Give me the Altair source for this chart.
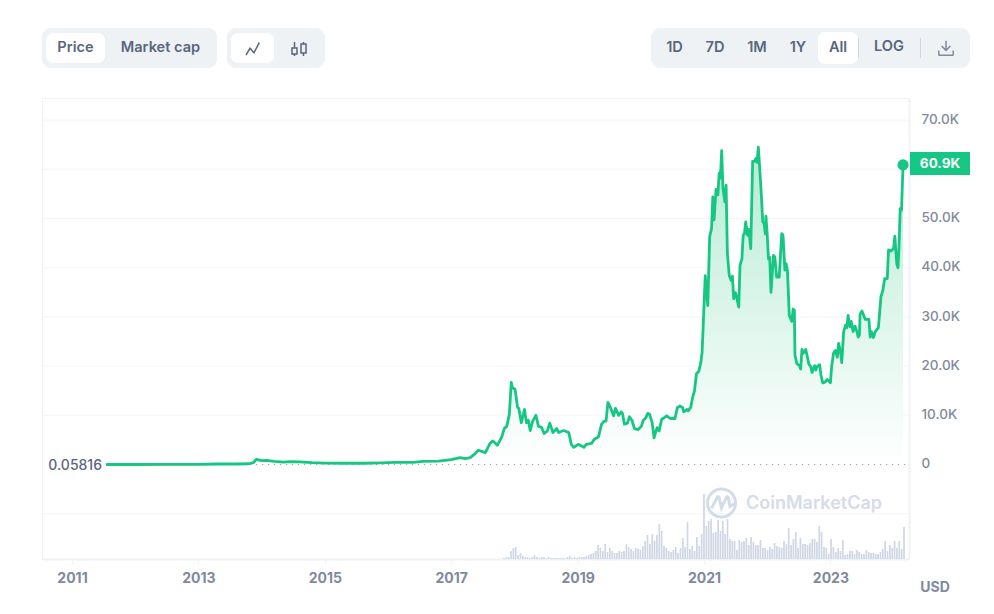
import altair as alt
import pandas as pd

FONT = "Inter"
GREEN = "#16c784"
SLATE = "#58667e"
AXIS_GREY = "#808a9d"
PANEL = "#eff2f5"
WATERMARK = "#d5dce9"

years = [
    2011.54, 2012.0, 2012.5, 2013.0, 2013.3, 2013.6, 2013.8, 2013.87, 2013.92, 2014.0, 2014.08, 2014.2, 2014.34,
    2014.45, 2014.6, 2014.8, 2015.0, 2015.3, 2015.6, 2015.9, 2016.1, 2016.4, 2016.55, 2016.8, 2017.0, 2017.14,
    2017.22, 2017.30, 2017.38, 2017.43, 2017.54, 2017.61, 2017.66, 2017.73, 2017.80, 2017.84, 2017.88, 2017.92,
    2017.95, 2017.97, 2018.01, 2018.05, 2018.07, 2018.11, 2018.16, 2018.19, 2018.22, 2018.25, 2018.29, 2018.34,
    2018.38, 2018.43, 2018.47, 2018.52, 2018.56, 2018.61, 2018.67, 2018.70, 2018.78, 2018.86, 2018.90, 2018.94,
    2019.01, 2019.10, 2019.14, 2019.22, 2019.27, 2019.33, 2019.38, 2019.42, 2019.45, 2019.48, 2019.52, 2019.57,
    2019.60, 2019.65, 2019.69, 2019.71, 2019.74, 2019.79, 2019.82, 2019.86, 2019.90, 2019.96, 2020.01, 2020.04,
    2020.08, 2020.11, 2020.14, 2020.18, 2020.21, 2020.24, 2020.26, 2020.29, 2020.33, 2020.37, 2020.41, 2020.46,
    2020.54, 2020.58, 2020.62, 2020.66, 2020.68, 2020.73, 2020.75, 2020.79, 2020.82, 2020.85, 2020.88, 2020.92,
    2020.95, 2020.97, 2020.99, 2021.02, 2021.06, 2021.09, 2021.12, 2021.14, 2021.16, 2021.19, 2021.22, 2021.24,
    2021.26, 2021.28, 2021.30, 2021.33, 2021.35, 2021.37, 2021.40, 2021.43, 2021.45, 2021.47, 2021.50, 2021.55,
    2021.57, 2021.60, 2021.62, 2021.64, 2021.66, 2021.69, 2021.71, 2021.74, 2021.77, 2021.80, 2021.82, 2021.84,
    2021.86, 2021.90, 2021.93, 2021.95, 2021.97, 2021.98, 2022.00, 2022.02, 2022.04, 2022.06, 2022.10, 2022.12,
    2022.15, 2022.19, 2022.23, 2022.25, 2022.28, 2022.30, 2022.32, 2022.35, 2022.39, 2022.41, 2022.43, 2022.44,
    2022.47, 2022.51, 2022.53, 2022.55, 2022.57, 2022.61, 2022.66, 2022.69, 2022.71, 2022.75, 2022.77, 2022.79,
    2022.83, 2022.85, 2022.88, 2022.92, 2022.95, 2023.00, 2023.02, 2023.05, 2023.08, 2023.11, 2023.13, 2023.16,
    2023.18, 2023.21, 2023.24, 2023.26, 2023.28, 2023.31, 2023.33, 2023.36, 2023.39, 2023.42, 2023.44, 2023.46,
    2023.47, 2023.50, 2023.55, 2023.61, 2023.63, 2023.65, 2023.68, 2023.71, 2023.76, 2023.80, 2023.83, 2023.86,
    2023.90, 2023.92, 2023.96, 2024.00, 2024.02, 2024.05, 2024.07, 2024.085, 2024.105, 2024.125, 2024.15,
]
prices_k = [
    0.00006, 0.005, 0.007, 0.013, 0.1, 0.1, 0.15, 0.4, 1.05, 0.8, 0.85, 0.65, 0.5,
    0.6, 0.55, 0.38, 0.3, 0.25, 0.25, 0.35, 0.42, 0.45, 0.65, 0.7, 1.0, 1.4,
    1.2, 1.4, 2.2, 2.9, 2.4, 4.2, 4.8, 3.9, 5.6, 7.3, 7.8, 10.2,
    16.7, 15.6, 15.3, 11.6, 11.4, 8.5, 11.2, 8.5, 9.0, 6.9, 8.8, 10.0,
    7.8, 7.5, 6.3, 6.8, 8.4, 6.5, 7.3, 6.5, 6.9, 6.5, 4.1, 3.5,
    4.1, 3.5, 4.1, 4.3, 5.2, 5.6, 8.2, 8.8, 8.8, 12.6, 11.6, 9.9,
    11.4, 10.0, 10.7, 10.4, 8.2, 8.4, 9.7, 9.0, 7.3, 7.1, 7.8, 9.0,
    9.5, 10.4, 10.2, 8.5, 5.4, 6.8, 7.5, 6.8, 9.2, 9.5, 9.9, 9.4,
    9.3, 11.6, 11.9, 11.6, 10.7, 11.2, 10.9, 11.6, 13.6, 15.0, 18.4, 19.0,
    20.7, 22.8, 29.0, 38.4, 32.3, 46.3, 48.0, 54.4, 49.7, 55.9, 54.8, 59.2,
    58.2, 63.8, 56.1, 53.4, 56.8, 42.9, 38.4, 37.4, 38.3, 33.7, 34.9, 32.0,
    40.5, 41.8, 46.6, 46.9, 49.3, 46.6, 47.8, 43.9, 61.6, 61.6, 62.2, 61.4,
    64.5, 56.5, 49.3, 49.0, 46.9, 50.5, 46.9, 41.8, 42.1, 35.0, 42.5, 42.2,
    38.1, 38.1, 46.9, 46.6, 39.5, 40.8, 39.5, 30.3, 29.1, 31.6, 31.3, 22.2,
    20.5, 20.1, 19.4, 23.4, 22.6, 23.4, 20.4, 19.9, 18.7, 20.1, 19.2, 19.9,
    20.3, 18.2, 16.6, 16.8, 17.3, 16.6, 19.9, 22.6, 23.2, 21.8, 24.6, 22.9,
    20.7, 27.0, 28.3, 27.8, 30.3, 28.0, 29.1, 27.0, 28.1, 27.0, 25.9, 26.3,
    30.5, 31.2, 29.5, 29.5, 25.9, 27.0, 25.8, 27.0, 27.8, 34.1, 35.4, 37.8,
    37.8, 43.6, 43.4, 43.9, 46.4, 40.8, 40.0, 44.0, 52.0, 51.7, 60.9,
]
volumes_b = [
    5, 10, 10, 40, 55, 60, 20, 30, 15, 10, 10, 5, 10, 20, 10, 5, 10, 10, 5, 10, 5, 5, 5, 5, 5, 5, 5, 10,
    15, 5, 10, 5, 10, 10, 10, 15, 20, 25, 30, 40, 70, 55, 40, 75, 35, 55, 40, 30, 30, 40, 35, 40, 75, 60,
    50, 40, 55,
    50, 45, 65, 90, 120, 75, 125, 90, 120, 175, 140, 65, 55, 40, 35, 45, 60, 30, 55, 105, 60, 185, 50, 65,
    40, 110, 65, 125, 325, 165, 190, 200, 130, 135, 195, 140, 190, 125, 200, 100, 90, 90, 45, 95, 85, 90,
    105, 70, 110, 85, 70, 70, 95, 55, 55, 45, 60, 50, 80, 65,
    60, 55, 90, 75, 155, 70, 100, 135, 55, 105, 75, 75, 70, 80, 100, 100, 85, 165, 135, 60, 55, 25, 100,
    60, 35, 55, 40, 95, 20, 25, 40, 40, 25, 45, 35, 25, 25, 45, 35, 30, 30, 25, 25, 35, 50, 90, 40, 70,
    55, 90, 55, 90, 50, 160,
]
vol_first, vol_last = 2017.835, 2024.165
vol_years = [vol_first + i * (vol_last - vol_first) / (len(volumes_b) - 1) for i in range(len(volumes_b))]

x_ticks = [2011, 2013, 2015, 2017, 2019, 2021, 2023]
y_labels = [0, 10, 20, 30, 40, 50, 70]
grid_lines = [-10, 10, 20, 30, 40, 50, 60, 70]

price_df = pd.DataFrame({"year": years, "price": prices_k})
vol_df = pd.DataFrame({"year": vol_years, "volume": volumes_b})
grid_df = pd.DataFrame({"level": grid_lines})
last_df = price_df.tail(1)
one = pd.DataFrame({"a": [0]})

OX, OY = 42, 98
x_scale = alt.Scale(domain=[2010.525, 2024.244], nice=False, zero=False, padding=0)
y_scale = alt.Scale(domain=[-19.207, 74.492], nice=False, zero=False)
X = alt.X("year:Q", scale=x_scale, title=None, axis=None)


def rrect(x0, x1, y0, y1, fill, r=0):
    return alt.Chart(one).mark_rect(color=fill, cornerRadius=r).encode(
        x=alt.value(x0 - OX), x2=alt.value(x1 - OX), y=alt.value(y0 - OY), y2=alt.value(y1 - OY))


def txt(s, x, y, size=14.6, weight=600, color=SLATE, align="center"):
    return alt.Chart(one).mark_text(text=s, font=FONT, fontSize=size, fontWeight=weight, color=color,
                                    align=align, baseline="middle").encode(
        x=alt.value(x - OX), y=alt.value(y - OY))


def icon(path, x, y, span, color=SLATE, width=1.5):
    return alt.Chart(one).mark_point(shape=path, size=span * span, filled=False, color=color, strokeWidth=width,
                                     opacity=1).encode(x=alt.value(x - OX), y=alt.value(y - OY))


axis_layer = alt.Chart(grid_df).mark_rule(color="#f3f5f8", strokeWidth=1).encode(
    y=alt.Y("level:Q", scale=y_scale, title=None, axis=None))

ticks_layer = alt.Chart(pd.DataFrame({"year": x_ticks, "price": [0] * len(x_ticks)})).mark_point(opacity=0).encode(
    x=alt.X("year:Q", scale=x_scale, title=None,
            axis=alt.Axis(values=x_ticks, format="d", labelFont=FONT, labelFontSize=14, labelFontWeight=700,
                          labelColor=AXIS_GREY, labelPadding=7, tickColor=PANEL, tickSize=5, domainColor=PANEL,
                          domainWidth=2, grid=False, labelFlush=False, labelOverlap=False)),
    y=alt.Y("price:Q", scale=y_scale, title=None,
            axis=alt.Axis(orient="right", values=y_labels, grid=False, ticks=False, domainColor=PANEL,
                          domainWidth=2, labelFont=FONT, labelFontSize=13.5, labelFontWeight=500,
                          labelColor=AXIS_GREY, labelPadding=12, labelAlign="left", labelOverlap=False,
                          labelOffset=-0.8,
                          labelExpr="datum.value == 0 ? '0' : format(datum.value, '.1f') + 'K'")))

volume_layer = alt.Chart(vol_df).mark_bar(orient="vertical", size=1.7, color="#cfd6e4").encode(
    x=X, y=alt.Y("volume:Q", scale=alt.Scale(domain=[0, 2305], nice=False), title=None, axis=None))

area_layer = alt.Chart(price_df).mark_area(
    color=alt.Gradient(gradient="linear", x1=1, x2=1, y1=1, y2=0,
                       stops=[alt.GradientStop(color="#ffffff", offset=0),
                              alt.GradientStop(color="#b7ebd5", offset=1)]),
    opacity=1).encode(x=X, y=alt.Y("price:Q", scale=y_scale, title=None, axis=None), y2=alt.Y2(datum=0))

zero_layer = alt.Chart(pd.DataFrame({"year": [2011.54], "end": [2024.244], "level": [0]})).mark_rule(
    color="#8a94a6", strokeDash=[1, 5], strokeWidth=1).encode(
    x=X, x2="end:Q", y=alt.Y("level:Q", scale=y_scale, title=None, axis=None))

red_layer = alt.Chart(pd.DataFrame({"year": [2011.54], "end": [2013.2], "level": [-0.03]})).mark_rule(
    color="#ea3943", strokeDash=[2, 2], strokeWidth=1).encode(
    x=X, x2="end:Q", y=alt.Y("level:Q", scale=y_scale, title=None, axis=None))

line_layer = alt.Chart(price_df).mark_line(color=GREEN, strokeWidth=2.8, strokeJoin="round").encode(
    x=X, y=alt.Y("price:Q", scale=y_scale, title=None, axis=None))

marker_layer = alt.Chart(last_df).mark_circle(color=GREEN, size=125, opacity=1).encode(
    x=X, y=alt.Y("price:Q", scale=y_scale, title=None, axis=None))

LINE_ICON = "M-0.93,0.86 L-0.36,-0.1 L0.21,0.53 L0.97,-0.9"
CANDLE_ICON = ("M-0.875,-0.125 H-0.25 V0.625 H-0.875 Z M-0.56,-0.875 V-0.125 M-0.56,0.625 V0.875 "
               "M0.25,-0.625 H0.875 V0.5 H0.25 Z M0.56,-0.875 V-0.625 M0.56,0.5 V0.875")
DOWNLOAD_ICON = ("M0,-0.9 V0.3 M-0.55,-0.25 L0,0.3 L0.55,-0.25 "
                 "M-0.9,0.3 V0.8 Q-0.9,0.9 -0.8,0.9 H0.8 Q0.9,0.9 0.9,0.8 V0.3")
LOGO_M = "M-0.72,0.38 L-0.3,-0.4 Q-0.2,-0.55 -0.15,-0.3 L0,0.35 L0.35,-0.4 Q0.45,-0.55 0.5,-0.3 L0.6,0.25 L0.9,0.05"

chrome = [
    rrect(42, 217, 28, 68, PANEL, 9), rrect(46, 105, 33, 63, "#ffffff", 7),
    txt("Price", 75.5, 48), txt("Market cap", 160.5, 48),
    rrect(227, 325, 28, 68, PANEL, 9), rrect(231, 274, 33, 63, "#ffffff", 7),
    icon(LINE_ICON, 252.5, 49, 14), icon(CANDLE_ICON, 299, 49, 16),
    rrect(651, 970, 28, 68, PANEL, 9), rrect(818, 858, 32, 64, "#ffffff", 7),
    txt("1D", 674.5, 48), txt("7D", 715, 48), txt("1M", 757, 48), txt("1Y", 798, 48), txt("All", 838, 48),
    txt("LOG", 889, 47),
    rrect(858, 859, 38, 58, "#cfd6e4"), rrect(920, 921, 38, 58, "#cfd6e4"),
    icon(DOWNLOAD_ICON, 946, 48, 16, color="#808a9d"),
    txt("0.05816", 102, 466, size=14, weight=500, align="right"),
    rrect(910, 970, 152, 175, GREEN),
    txt("60.9K", 940, 163.5, size=13.5, weight=700, color="#ffffff"),
    txt("USD", 935, 588, size=14, weight=700, color=AXIS_GREY),
    icon("M-1,0 A1,1 0 1,1 1,0 A1,1 0 1,1 -1,0 Z", 721.5, 503, 28, color=WATERMARK, width=3),
    icon(LOGO_M, 721.5, 503, 28, color=WATERMARK, width=3),
    txt("CoinMarketCap", 814, 504, size=18, weight=600, color=WATERMARK),
]

chart = alt.layer(
    axis_layer, ticks_layer, volume_layer, area_layer, zero_layer, red_layer, line_layer, marker_layer, *chrome
).resolve_scale(y="independent").resolve_axis(x="independent", y="independent").properties(
    width=867, height=461,
    background="#ffffff",
    padding={"left": 34, "top": 90, "right": 70, "bottom": 40},
    autosize=alt.AutoSizeParams(type="none"),
).configure_view(stroke="#f1f3f6", strokeWidth=1)

chart.save("out.html", embed_options={"renderer": "svg", "actions": False})
